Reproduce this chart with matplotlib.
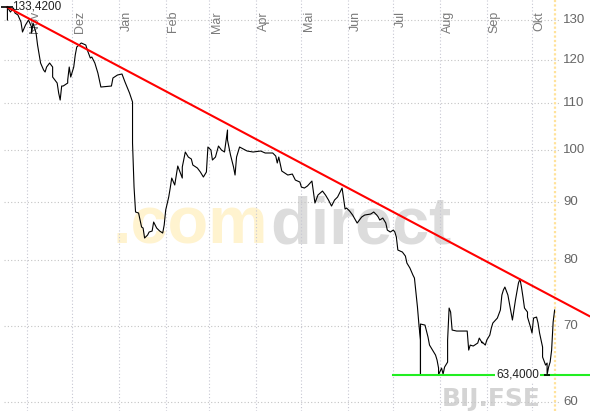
import numpy as np
import matplotlib
matplotlib.use('Agg')
import matplotlib.pyplot as plt
import matplotlib.dates as mdates
import matplotlib.transforms as mtrans

plt.rcParams['font.family'] = ['Liberation Sans', 'DejaVu Sans']

# ---- data (BIJ.FSE, closing prices) ----
dates = [
    '2007-10-19', '2007-10-19', '2007-10-21', '2007-10-23', '2007-10-24', '2007-10-26', '2007-10-28', '2007-10-29', '2007-10-31',
    '2007-11-02', '2007-11-04', '2007-11-04', '2007-11-05', '2007-11-07', '2007-11-08', '2007-11-10', '2007-11-12', '2007-11-13',
    '2007-11-14', '2007-11-16', '2007-11-18', '2007-11-18', '2007-11-21', '2007-11-22', '2007-11-23', '2007-11-24', '2007-11-25',
    '2007-11-28', '2007-11-28', '2007-11-29', '2007-11-30',
    '2007-12-02', '2007-12-03', '2007-12-04', '2007-12-07', '2007-12-10', '2007-12-11', '2007-12-13', '2007-12-14', '2007-12-16',
    '2007-12-18', '2007-12-20', '2007-12-27', '2007-12-28', '2007-12-31',
    '2008-01-03', '2008-01-05', '2008-01-08', '2008-01-10', '2008-01-10', '2008-01-11', '2008-01-12', '2008-01-14', '2008-01-16',
    '2008-01-17', '2008-01-18', '2008-01-20', '2008-01-21', '2008-01-23', '2008-01-24', '2008-01-26', '2008-01-28', '2008-01-30',
    '2008-01-31',
    '2008-02-01', '2008-02-03', '2008-02-04', '2008-02-05', '2008-02-07', '2008-02-09', '2008-02-10', '2008-02-12', '2008-02-12',
    '2008-02-14', '2008-02-16', '2008-02-18', '2008-02-19', '2008-02-22', '2008-02-24', '2008-02-26', '2008-02-28', '2008-02-29',
    '2008-03-02', '2008-03-03', '2008-03-05', '2008-03-07', '2008-03-09', '2008-03-11', '2008-03-13', '2008-03-13', '2008-03-15',
    '2008-03-17', '2008-03-18', '2008-03-19', '2008-03-21', '2008-03-26', '2008-03-30',
    '2008-04-04', '2008-04-07', '2008-04-09', '2008-04-12', '2008-04-14', '2008-04-15', '2008-04-16', '2008-04-18', '2008-04-20',
    '2008-04-22', '2008-04-25', '2008-04-27', '2008-04-30',
    '2008-05-01', '2008-05-03', '2008-05-05', '2008-05-08', '2008-05-10', '2008-05-12', '2008-05-15', '2008-05-17', '2008-05-19',
    '2008-05-21', '2008-05-23', '2008-05-25', '2008-05-28', '2008-05-30', '2008-05-31',
    '2008-06-02', '2008-06-04', '2008-06-07', '2008-06-10', '2008-06-12', '2008-06-16', '2008-06-18', '2008-06-20', '2008-06-21',
    '2008-06-22', '2008-06-24', '2008-06-26', '2008-06-27', '2008-06-29',
    '2008-07-01', '2008-07-02', '2008-07-03', '2008-07-04', '2008-07-07', '2008-07-09', '2008-07-10', '2008-07-12', '2008-07-14',
    '2008-07-15', '2008-07-16', '2008-07-17', '2008-07-18', '2008-07-19', '2008-07-19', '2008-07-19', '2008-07-22', '2008-07-24',
    '2008-07-25', '2008-07-27', '2008-07-29', '2008-07-30', '2008-07-31', '2008-07-31',
    '2008-08-02', '2008-08-03', '2008-08-04', '2008-08-06', '2008-08-06', '2008-08-07', '2008-08-08', '2008-08-09', '2008-08-12',
    '2008-08-16', '2008-08-19', '2008-08-20', '2008-08-21', '2008-08-23', '2008-08-26', '2008-08-27', '2008-08-29', '2008-08-29',
    '2008-08-31',
    '2008-09-01', '2008-09-03', '2008-09-04', '2008-09-05', '2008-09-08', '2008-09-10', '2008-09-11', '2008-09-12', '2008-09-13',
    '2008-09-15', '2008-09-17', '2008-09-18', '2008-09-19', '2008-09-20', '2008-09-22', '2008-09-23', '2008-09-24', '2008-09-25',
    '2008-09-26', '2008-09-28', '2008-09-28', '2008-09-30',
    '2008-10-01', '2008-10-02', '2008-10-04', '2008-10-05', '2008-10-06', '2008-10-08', '2008-10-08', '2008-10-10', '2008-10-11',
    '2008-10-11', '2008-10-12', '2008-10-13', '2008-10-14', '2008-10-15', '2008-10-16',
]
prices = [
    130.00, 133.42, 132.12, 133.20, 131.86, 131.32, 129.47, 126.88, 128.69,
    130.00, 128.17, 126.62, 129.21, 126.62, 123.58, 119.16, 117.49, 117.01,
    118.20, 119.16, 118.20, 115.83, 114.43, 112.14, 110.56, 113.74, 113.74,
    114.43, 115.13, 118.20, 115.83,
    118.20, 121.11, 123.09, 124.09, 123.58, 122.34, 120.37, 120.62, 119.16,
    116.78, 113.51, 113.74, 115.60, 116.30,
    116.54, 114.67, 112.14, 110.12, 101.35, 92.71, 88.14, 87.96, 85.50,
    85.33, 83.62, 84.13, 84.64, 84.81, 86.37, 85.33, 84.81, 84.47,
    85.85,
    88.49, 90.85, 92.52, 94.41, 93.09, 96.74, 95.96, 94.41, 96.54,
    99.52, 98.51, 98.12, 96.93, 96.35, 95.57, 94.61, 95.57, 100.53,
    99.92, 97.92, 98.51, 100.73, 99.92, 99.52, 104.05, 101.96, 98.91,
    96.54, 94.99, 98.51, 100.53, 99.72, 99.52,
    99.72, 99.32, 99.32, 99.32, 98.71, 97.33, 98.51, 95.76, 95.38,
    94.99, 95.18, 94.03, 93.65,
    92.71, 92.52, 92.90, 93.84, 89.76, 91.22, 91.96, 91.22, 90.30,
    89.21, 90.30, 90.85, 92.52, 88.67, 88.85,
    88.31, 87.60, 86.19, 87.25, 87.60, 87.78, 88.14, 87.60, 87.25,
    86.72, 87.07, 86.19, 84.98, 84.64,
    84.98, 84.64, 83.79, 81.61, 81.28, 80.62, 79.49, 78.69, 77.58,
    77.11, 74.81, 72.72, 70.11, 68.02, 63.40, 70.26, 70.11, 68.43,
    67.33, 66.65, 65.98, 65.32, 64.27, 63.40,
    64.27, 63.49, 64.40, 65.05, 68.02, 72.57, 71.98, 69.41, 69.27,
    69.27, 69.27, 66.65, 67.33, 67.20, 67.61, 68.29, 67.61, 67.74,
    67.33,
    68.02, 68.71, 69.69, 70.40, 71.11, 72.28, 74.50, 75.26, 75.72,
    74.50, 71.98, 70.83, 72.28, 73.75, 76.34, 76.96, 75.72, 74.20,
    72.57, 71.98, 71.26, 69.83,
    68.99, 71.11, 71.26, 70.40, 68.99, 67.06, 65.72, 64.66, 64.92,
    63.40, 64.40, 65.05, 66.65, 70.54, 72.28,
]
yticks = [60, 70, 80, 90, 100, 110, 120, 130]
month_labels = ['Nov', 'Dez', 'Jan', 'Feb', 'Mär', 'Apr', 'Mai', 'Jun', 'Jul', 'Aug', 'Sep', 'Okt']
month_starts = ['2007-11-01', '2007-12-01', '2008-01-01', '2008-02-01', '2008-03-01', '2008-04-01',
                '2008-05-01', '2008-06-01', '2008-07-01', '2008-08-01', '2008-09-01', '2008-10-01']
trend_dates = ['2007-10-19', '2008-11-08']
trend_vals = [133.42, 71.4]
support_dates = ['2008-07-01', '2008-11-08']
support_val = 63.40
high_label = '133,4200'
low_label = '63,4000'
x_range = ['2007-10-14 02:00', '2008-11-08 11:00']
y_range = (58.92, 135.37)

# ---- drawing ----
fig = plt.figure(figsize=(5.9, 4.11), dpi=100)
ax = fig.add_axes([0, 0, 1, 1])
ax.set_yscale('log')
ax.set_ylim(*y_range)
ax.set_xlim(*mdates.datestr2num(x_range))
ax.set_axis_off()

d = mdates.datestr2num(dates)
grid_kw = dict(lw=0.8, ls=(0, (1, 2)), zorder=1)
for v in yticks:
    ax.axhline(v, xmin=4/590, xmax=560/590, color='#c4c4c4', **grid_kw)
for m in month_starts:
    ax.axvline(mdates.datestr2num(m), color='#c6c6d2', **grid_kw)
ax.axvline(d[-1], color='#FFE29A', lw=1.6, ls=(0, (1, 1)), zorder=1.5)

bt = mtrans.blended_transform_factory(ax.transData, ax.transAxes)
off = mtrans.offset_copy(bt, fig=fig, x=1.5, y=0, units='dots')
for m, lab in zip(month_starts, month_labels):
    ax.text(mdates.datestr2num(m), 1 - 11/411, lab, transform=off, rotation=90,
            ha='left', va='top', fontsize=9, color='#7a7a7a', zorder=2)
ytr = mtrans.blended_transform_factory(ax.transAxes, ax.transData)
for v in yticks:
    ax.text(563/590, v, str(v), transform=ytr, ha='left', va='center', fontsize=9.5, color='#666666')

# watermarks
ax.text(268/590, 1 - 243/411, '.com', transform=ax.transAxes, ha='right', va='baseline',
        fontsize=48, fontweight='bold', color='#FFF3CF', zorder=0)
ax.text(270/590, 1 - 243/411, 'direct', transform=ax.transAxes, ha='left', va='baseline',
        fontsize=48, fontweight='bold', color='#DCDCDC', zorder=0)
ax.text(442/590, 0.0, 'BIJ.FSE', transform=ax.transAxes, ha='left', va='bottom',
        fontsize=18, fontweight='bold', family='DejaVu Sans', color='#D4D4D4', zorder=0)

# price, trend and support lines
ax.plot(d, prices, color='black', lw=0.8, zorder=3)
ax.plot(mdates.datestr2num(trend_dates), trend_vals, color='#FF0000', lw=1.5, zorder=4)
ax.plot(mdates.datestr2num(support_dates), [support_val] * 2, color='#22EE22', lw=1.5, zorder=4)

imax = int(np.argmax(prices))
ax.plot([d[imax]], [prices[imax]], marker='_', ms=8, mew=1.2, color='black', zorder=5)
ax.annotate(high_label, xy=(d[imax], prices[imax]), xytext=(3.5, 0.5), textcoords='offset points',
            ha='left', va='center', fontsize=8.5, color='#222222', zorder=6)
ilow = len(prices) - 1 - int(np.argmin(prices[::-1]))
ax.plot([d[ilow]], [prices[ilow]], marker='_', ms=5, mew=1.2, color='black', zorder=5)
ax.annotate(low_label, xy=(d[ilow], prices[ilow]), xytext=(-6, 0), textcoords='offset points',
            ha='right', va='center', fontsize=8.5, color='#222222', zorder=6,
            bbox=dict(boxstyle='square,pad=0.1', fc='white', ec='none'))

fig.savefig('out.png', dpi=100)
